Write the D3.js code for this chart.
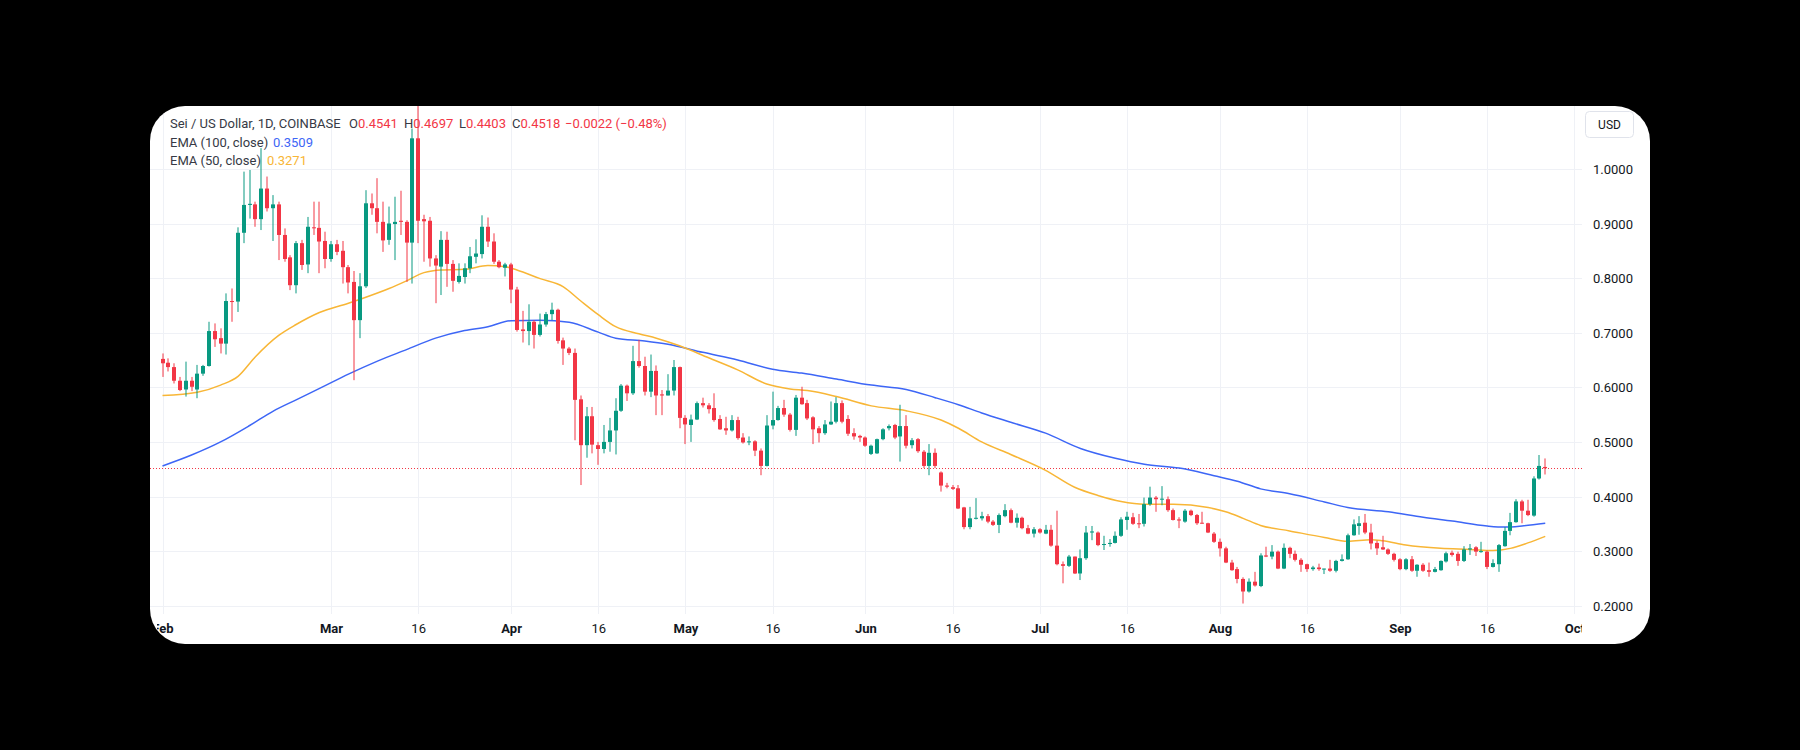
<!DOCTYPE html>
<html>
<head>
<meta charset="utf-8">
<script src="https://cdn.jsdelivr.net/npm/d3@7"></script>
<style>
  html, body { margin: 0; padding: 0; background: #000; }
  svg { display: block; }
  text { font-family: Roboto, "Noto Sans", sans-serif; }
</style>
</head>
<body>
<svg id="chart" width="1800" height="750"></svg>
<script>
// ---------------- DATA ----------------
const startDate = "2024-02-01";
const opens = [0.652,0.645,0.637,0.612,0.596,0.612,0.596,0.625,0.639,0.703,0.690,0.680,0.758,0.757,0.883,0.934,0.935,0.908,0.964,0.928,0.935,0.879,0.838,0.787,0.864,0.825,0.893,0.892,0.868,0.835,0.862,0.850,0.820,0.793,0.723,0.785,0.937,0.928,0.903,0.870,0.899,0.905,0.903,0.865,1.056,0.908,0.905,0.836,0.821,0.870,0.826,0.793,0.802,0.818,0.839,0.844,0.894,0.867,0.830,0.819,0.825,0.779,0.706,0.703,0.720,0.696,0.715,0.734,0.742,0.686,0.671,0.663,0.578,0.494,0.547,0.494,0.487,0.500,0.521,0.557,0.603,0.589,0.648,0.639,0.592,0.630,0.587,0.585,0.594,0.637,0.544,0.531,0.541,0.571,0.567,0.562,0.542,0.525,0.521,0.540,0.508,0.500,0.501,0.484,0.456,0.530,0.540,0.562,0.550,0.522,0.581,0.571,0.545,0.525,0.516,0.532,0.537,0.571,0.542,0.516,0.511,0.508,0.478,0.479,0.505,0.525,0.531,0.510,0.529,0.494,0.505,0.482,0.456,0.480,0.444,0.420,0.417,0.415,0.380,0.344,0.360,0.360,0.364,0.354,0.348,0.364,0.375,0.352,0.361,0.342,0.332,0.340,0.332,0.339,0.310,0.276,0.273,0.290,0.259,0.287,0.334,0.334,0.312,0.313,0.315,0.328,0.357,0.362,0.351,0.350,0.386,0.398,0.395,0.395,0.375,0.358,0.354,0.374,0.366,0.352,0.351,0.332,0.317,0.305,0.279,0.267,0.249,0.226,0.244,0.236,0.292,0.290,0.299,0.268,0.306,0.295,0.284,0.276,0.267,0.270,0.267,0.268,0.264,0.282,0.285,0.329,0.346,0.352,0.334,0.315,0.307,0.303,0.295,0.285,0.267,0.285,0.264,0.275,0.265,0.262,0.265,0.281,0.297,0.295,0.282,0.303,0.307,0.299,0.299,0.271,0.276,0.309,0.337,0.353,0.391,0.374,0.365,0.433,0.4541];
const highs = [0.662,0.653,0.644,0.619,0.647,0.619,0.641,0.641,0.720,0.717,0.708,0.772,0.781,0.893,0.995,0.998,0.940,1.038,0.986,0.952,0.940,0.891,0.842,0.868,0.870,0.912,0.940,0.940,0.885,0.868,0.870,0.868,0.824,0.813,0.809,0.961,0.955,0.983,0.940,0.931,0.949,0.960,0.906,1.074,1.140,0.916,0.912,0.842,0.886,0.885,0.833,0.827,0.827,0.857,0.871,0.915,0.911,0.882,0.833,0.828,0.828,0.784,0.740,0.752,0.723,0.735,0.738,0.755,0.744,0.691,0.674,0.671,0.585,0.564,0.564,0.500,0.531,0.544,0.580,0.606,0.605,0.676,0.687,0.656,0.660,0.640,0.595,0.624,0.650,0.638,0.549,0.550,0.574,0.581,0.571,0.589,0.549,0.546,0.549,0.546,0.516,0.510,0.503,0.488,0.549,0.592,0.566,0.577,0.553,0.586,0.601,0.577,0.547,0.529,0.540,0.574,0.582,0.576,0.549,0.525,0.513,0.510,0.495,0.506,0.525,0.532,0.533,0.568,0.549,0.507,0.507,0.485,0.496,0.488,0.446,0.425,0.421,0.421,0.381,0.381,0.397,0.372,0.368,0.357,0.369,0.386,0.378,0.369,0.363,0.348,0.344,0.342,0.348,0.348,0.374,0.281,0.293,0.290,0.303,0.346,0.346,0.336,0.328,0.322,0.336,0.362,0.372,0.370,0.368,0.398,0.418,0.401,0.419,0.400,0.378,0.362,0.377,0.376,0.368,0.372,0.352,0.335,0.323,0.308,0.284,0.271,0.252,0.250,0.262,0.296,0.308,0.311,0.301,0.314,0.308,0.301,0.287,0.277,0.273,0.277,0.268,0.284,0.284,0.294,0.332,0.358,0.364,0.368,0.350,0.319,0.328,0.305,0.297,0.287,0.287,0.291,0.276,0.278,0.279,0.271,0.283,0.299,0.301,0.299,0.309,0.313,0.309,0.317,0.301,0.285,0.313,0.344,0.370,0.395,0.394,0.394,0.437,0.476,0.4697];
const lows = [0.619,0.629,0.607,0.593,0.583,0.593,0.580,0.621,0.638,0.674,0.662,0.660,0.720,0.738,0.864,0.909,0.894,0.888,0.922,0.868,0.833,0.830,0.778,0.772,0.815,0.809,0.879,0.809,0.818,0.830,0.842,0.790,0.772,0.613,0.690,0.782,0.916,0.882,0.848,0.861,0.833,0.879,0.793,0.790,0.864,0.830,0.821,0.754,0.769,0.784,0.775,0.790,0.790,0.809,0.827,0.836,0.857,0.826,0.818,0.803,0.754,0.702,0.682,0.677,0.671,0.693,0.711,0.723,0.680,0.641,0.659,0.503,0.421,0.471,0.479,0.458,0.479,0.482,0.477,0.555,0.575,0.586,0.636,0.585,0.582,0.549,0.549,0.585,0.585,0.525,0.496,0.500,0.540,0.563,0.552,0.537,0.522,0.513,0.519,0.504,0.497,0.494,0.474,0.439,0.455,0.523,0.539,0.546,0.519,0.511,0.568,0.540,0.496,0.499,0.513,0.531,0.534,0.534,0.511,0.504,0.500,0.491,0.476,0.478,0.503,0.521,0.505,0.464,0.488,0.488,0.480,0.452,0.439,0.452,0.409,0.415,0.412,0.377,0.340,0.340,0.358,0.356,0.351,0.346,0.333,0.362,0.351,0.343,0.340,0.331,0.325,0.332,0.331,0.308,0.274,0.241,0.271,0.258,0.247,0.284,0.320,0.309,0.302,0.308,0.314,0.326,0.339,0.348,0.342,0.345,0.383,0.372,0.384,0.372,0.356,0.342,0.352,0.364,0.348,0.350,0.333,0.315,0.290,0.278,0.264,0.241,0.204,0.224,0.235,0.234,0.289,0.285,0.267,0.267,0.287,0.281,0.262,0.262,0.264,0.264,0.258,0.262,0.261,0.281,0.284,0.328,0.330,0.331,0.303,0.293,0.302,0.293,0.281,0.265,0.265,0.262,0.253,0.262,0.253,0.261,0.264,0.279,0.290,0.273,0.280,0.293,0.291,0.297,0.267,0.270,0.262,0.308,0.329,0.352,0.351,0.364,0.363,0.431,0.4403];
const closes = [0.644,0.637,0.612,0.595,0.612,0.601,0.625,0.639,0.703,0.688,0.680,0.758,0.757,0.883,0.934,0.936,0.908,0.964,0.928,0.935,0.879,0.835,0.787,0.864,0.824,0.894,0.892,0.867,0.835,0.862,0.848,0.820,0.792,0.723,0.785,0.937,0.928,0.903,0.869,0.900,0.903,0.903,0.865,1.056,0.905,0.904,0.836,0.823,0.870,0.826,0.795,0.804,0.818,0.840,0.845,0.894,0.867,0.830,0.820,0.825,0.779,0.705,0.703,0.720,0.696,0.715,0.734,0.742,0.685,0.671,0.663,0.577,0.494,0.547,0.495,0.487,0.500,0.521,0.557,0.603,0.589,0.648,0.639,0.592,0.630,0.585,0.585,0.594,0.637,0.544,0.532,0.541,0.571,0.567,0.560,0.540,0.523,0.521,0.540,0.507,0.499,0.501,0.484,0.456,0.530,0.540,0.562,0.550,0.522,0.581,0.569,0.543,0.523,0.516,0.532,0.537,0.571,0.537,0.515,0.510,0.508,0.493,0.493,0.505,0.523,0.529,0.508,0.529,0.493,0.503,0.483,0.456,0.480,0.456,0.420,0.418,0.414,0.378,0.344,0.360,0.361,0.364,0.354,0.348,0.366,0.375,0.352,0.361,0.342,0.332,0.340,0.334,0.339,0.310,0.276,0.273,0.290,0.259,0.287,0.334,0.336,0.311,0.313,0.315,0.328,0.358,0.363,0.350,0.350,0.386,0.398,0.395,0.396,0.375,0.357,0.356,0.374,0.366,0.351,0.351,0.334,0.317,0.305,0.279,0.265,0.249,0.226,0.244,0.237,0.292,0.290,0.299,0.268,0.306,0.295,0.284,0.275,0.267,0.270,0.267,0.268,0.264,0.282,0.285,0.329,0.349,0.351,0.334,0.314,0.305,0.303,0.295,0.284,0.267,0.285,0.264,0.275,0.264,0.262,0.267,0.282,0.296,0.293,0.282,0.303,0.305,0.299,0.300,0.271,0.278,0.311,0.337,0.353,0.391,0.374,0.366,0.433,0.456,0.4518];

// EMA readings (day offset from startDate, value)
const ema100Days   = [0,5,10,15,19,23,28,32,37,42,47,52,56,60,65,70,75,78,83,87,93,99,105,110,116,122,128,133,137,141,146,152,158,164,169,175,181,185,189,194,200,204,211,217,222,228,231,234,238];
const ema100Values = [0.456,0.476,0.500,0.530,0.556,0.577,0.603,0.624,0.648,0.669,0.690,0.704,0.711,0.722,0.723,0.719,0.701,0.690,0.685,0.679,0.664,0.650,0.633,0.626,0.615,0.604,0.596,0.581,0.568,0.553,0.536,0.516,0.488,0.470,0.459,0.452,0.438,0.428,0.414,0.405,0.390,0.380,0.372,0.362,0.355,0.346,0.344,0.346,0.351];
const ema50Days   = [0,6,10,13,16,20,23,27,32,35,39,42,45,48,52,56,59,61,65,69,72,75,78,82,85,89,94,99,104,108,111,116,122,128,134,137,141,146,152,157,161,165,169,174,180,183,186,189,194,200,204,208,210,214,220,225,229,232,235,238];
const ema50Values = [0.585,0.591,0.604,0.620,0.656,0.695,0.715,0.737,0.754,0.765,0.781,0.795,0.810,0.815,0.816,0.823,0.821,0.815,0.799,0.784,0.758,0.733,0.711,0.698,0.690,0.676,0.654,0.632,0.606,0.597,0.594,0.583,0.566,0.557,0.540,0.525,0.500,0.477,0.448,0.417,0.402,0.391,0.386,0.386,0.380,0.372,0.360,0.347,0.337,0.325,0.318,0.321,0.319,0.311,0.305,0.303,0.301,0.305,0.315,0.327];

const timeTickDates  = ["2024-02-01","2024-03-01","2024-03-16","2024-04-01","2024-04-16","2024-05-01","2024-05-16","2024-06-01","2024-06-16","2024-07-01","2024-07-16","2024-08-01","2024-08-16","2024-09-01","2024-09-16","2024-10-01"];
const timeTickLabels = ["Feb","Mar","16","Apr","16","May","16","Jun","16","Jul","16","Aug","16","Sep","16","Oct"];
const priceTicks = [0.2,0.3,0.4,0.5,0.6,0.7,0.8,0.9,1.0];

const symbolTitle = "Sei / US Dollar, 1D, COINBASE";
const ohlcLabels = ["O","H","L","C"];
const ohlcValues = ["0.4541","0.4697","0.4403","0.4518"];
const changeText = "\u22120.0022 (\u22120.48%)";
const emaLegend = [["EMA (100, close)","0.3509"],["EMA (50, close)","0.3271"]];
const lastPrice = 0.4518;
const currency = "USD";

// ---------------- LAYOUT ----------------
const card = {x:150, y:106, w:1500, h:538, r:35};
const pane = {left:150, right:1582, top:106, bottom:614};
const UP = "#089981", DOWN = "#f23645";
const BLUE = "#3d66f6", ORANGE = "#f8b636";
const GRID = "#eff1f6";
const TEXT = "#131722";
const LEGEND_TEXT = "#363a45";
const ohlcX = [349, 404, 459, 512];
const changeX = 565;
const emaValueX = [273, 267];

const svg = d3.select("#chart");
const defs = svg.append("defs");
defs.append("clipPath").attr("id","cardClip").append("rect")
  .attr("x",card.x).attr("y",card.y).attr("width",card.w).attr("height",card.h)
  .attr("rx",card.r).attr("ry",card.r);
defs.append("clipPath").attr("id","paneClip").append("rect")
  .attr("x",pane.left).attr("y",pane.top).attr("width",pane.right-pane.left).attr("height",pane.bottom-pane.top);
defs.append("clipPath").attr("id","timeClip").append("rect")
  .attr("x",157).attr("y",pane.bottom).attr("width",pane.right-157).attr("height",40);

svg.append("rect").attr("width",1800).attr("height",750).attr("fill","#000");
svg.append("rect").attr("x",card.x).attr("y",card.y).attr("width",card.w).attr("height",card.h)
  .attr("rx",card.r).attr("ry",card.r).attr("fill","#fff");

const root = svg.append("g").attr("clip-path","url(#cardClip)");

const parse = d3.utcParse("%Y-%m-%d");
const t0 = parse(startDate);
const x = d3.scaleUtc().domain([t0, parse("2024-10-01")]).range([162.5, 1574.3]);
const y = d3.scaleLinear().domain([0.2, 1.0]).range([605.7, 168.9]);

const candles = opens.map((o,i)=>({date:d3.utcDay.offset(t0,i), o, h:highs[i], l:lows[i], c:closes[i]}));
const tickDates = timeTickDates.map(parse);

const paneG = root.append("g").attr("clip-path","url(#paneClip)");

// grid
paneG.append("g").selectAll("line").data(tickDates).join("line")
  .attr("x1",d=>Math.round(x(d))+0.5).attr("x2",d=>Math.round(x(d))+0.5)
  .attr("y1",pane.top).attr("y2",pane.bottom).attr("stroke",GRID).attr("stroke-width",1);
paneG.append("g").selectAll("line").data(priceTicks).join("line")
  .attr("x1",pane.left).attr("x2",pane.right)
  .attr("y1",d=>Math.round(y(d))+0.5).attr("y2",d=>Math.round(y(d))+0.5)
  .attr("stroke",GRID).attr("stroke-width",1);

// last price dotted line
paneG.append("line").attr("x1",pane.left).attr("x2",pane.right)
  .attr("y1",Math.round(y(lastPrice))+0.5).attr("y2",Math.round(y(lastPrice))+0.5)
  .attr("stroke",DOWN).attr("stroke-width",1).attr("stroke-dasharray","1,2");

// EMA lines
const emaLine = d3.line().x(d=>x(d3.utcDay.offset(t0,d[0]))).y(d=>y(d[1])).curve(d3.curveMonotoneX);
paneG.append("path").datum(ema100Days.map((d,i)=>[d,ema100Values[i]]))
  .attr("d",emaLine).attr("fill","none").attr("stroke",BLUE).attr("stroke-width",1.5);
paneG.append("path").datum(ema50Days.map((d,i)=>[d,ema50Values[i]]))
  .attr("d",emaLine).attr("fill","none").attr("stroke",ORANGE).attr("stroke-width",1.5);

// candles
const cg = paneG.append("g").selectAll("g").data(candles).join("g");
cg.append("line")
  .attr("x1",d=>Math.round(x(d.date))).attr("x2",d=>Math.round(x(d.date)))
  .attr("y1",d=>y(d.h)).attr("y2",d=>y(d.l))
  .attr("stroke",d=>d.c>=d.o?UP:DOWN).attr("stroke-width",1);
cg.append("rect")
  .attr("x",d=>Math.round(x(d.date))-2).attr("width",4)
  .attr("y",d=>Math.min(y(d.o),y(d.c)))
  .attr("height",d=>Math.max(1,Math.abs(y(d.o)-y(d.c))))
  .attr("fill",d=>d.c>=d.o?UP:DOWN);

// time axis
const timeG = root.append("g").attr("clip-path","url(#timeClip)")
  .append("g").attr("transform",`translate(0,628)`);
const xAxis = d3.axisBottom(x).tickValues(tickDates).tickSize(0).tickPadding(0)
  .tickFormat((d,i)=>timeTickLabels[i]);
timeG.call(xAxis);
timeG.select(".domain").remove();
timeG.selectAll("text").attr("y",0).attr("dy","0.35em")
  .attr("font-size",13).attr("fill",TEXT)
  .attr("font-family","Roboto, sans-serif")
  .attr("font-weight",(d,i)=>timeTickLabels[i]==="16"?400:700);

// price axis
const yG = root.append("g").attr("transform","translate(1593,0)");
const yAxis = d3.axisRight(y).tickValues(priceTicks).tickSize(0).tickPadding(0).tickFormat(d3.format(".4f"));
yG.call(yAxis);
yG.select(".domain").remove();
yG.selectAll("text").attr("x",0).attr("dy","0.35em").attr("font-size",13)
  .attr("fill",TEXT).attr("text-anchor","start").attr("font-family","Roboto, sans-serif");

// USD box
root.append("rect").attr("x",1585.5).attr("y",111.5).attr("width",48).attr("height",26)
  .attr("rx",4).attr("fill","#fff").attr("stroke","#e0e3eb");
root.append("text").attr("x",1609.5).attr("y",124.5).attr("dy","0.35em").attr("text-anchor","middle")
  .attr("font-size",12).attr("fill",TEXT).text(currency);

// legend
const leg = root.append("g").attr("font-size",13);
leg.append("text").attr("x",170).attr("y",123.5).attr("dy","0.35em")
  .attr("fill",LEGEND_TEXT).text(symbolTitle);
ohlcLabels.forEach((lab,i)=>{
  const t = leg.append("text").attr("x",ohlcX[i]).attr("y",123.5).attr("dy","0.35em");
  t.append("tspan").attr("fill",LEGEND_TEXT).text(lab);
  t.append("tspan").attr("fill",DOWN).text(ohlcValues[i]);
});
leg.append("text").attr("x",changeX).attr("y",123.5).attr("dy","0.35em")
  .attr("fill",DOWN).text(changeText);

emaLegend.forEach((e,i)=>{
  const yy = 142.3+i*18.4;
  leg.append("text").attr("x",170).attr("y",yy).attr("dy","0.35em").attr("fill",LEGEND_TEXT).text(e[0]);
  leg.append("text").attr("x",emaValueX[i]).attr("y",yy).attr("dy","0.35em")
    .attr("fill",i===0?BLUE:ORANGE).text(e[1]);
});
</script>
</body>
</html>
